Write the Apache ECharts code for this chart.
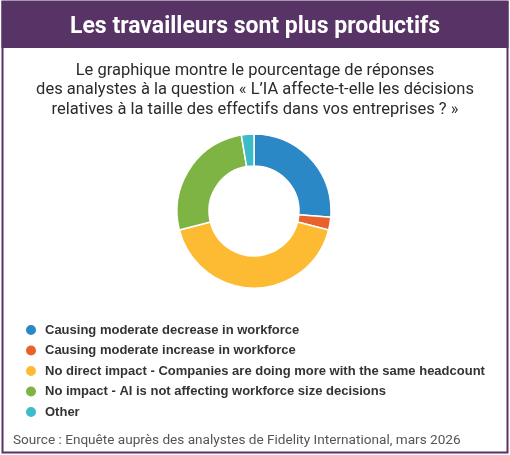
<!DOCTYPE html>
<html>
<head>
<meta charset="utf-8">
<script src="https://cdn.jsdelivr.net/npm/echarts@6/dist/echarts.min.js"></script>
<style>
  html, body { margin: 0; padding: 0; background: #fff; }
  #chart { width: 510px; height: 455px; }
</style>
</head>
<body>
<div id="chart"></div>
<script>
// réponses des analystes (nombre)
var categories = [
  'Causing moderate decrease in workforce',
  'Causing moderate increase in workforce',
  'No direct impact - Companies are doing more with the same headcount',
  'No impact - AI is not affecting workforce size decisions',
  'Other'
];
var responses = [10, 1, 16, 10, 1];
var colors = ['#2a88c6', '#e9612b', '#fcbb33', '#7db443', '#3cbcc9'];

var purple = '#573366';

var chart = echarts.init(document.getElementById('chart'));
chart.setOption({
  animation: false,
  color: colors,
  graphic: [
    { type: 'rect', shape: { x: 2.5, y: 1.5, width: 505, height: 451 }, style: { fill: '#fff', stroke: purple, lineWidth: 2 }, z: -10 },
    { type: 'rect', shape: { x: 1.5, y: 1, width: 507, height: 47 }, style: { fill: purple }, z: -9 }
  ],
  title: [
    {
      text: 'Les travailleurs sont plus productifs',
      left: 'center', top: 11,
      textStyle: { color: '#fff', fontFamily: 'Roboto', fontWeight: 'bold', fontSize: 23 }
    },
    {
      text: 'Le graphique montre le pourcentage de réponses\ndes analystes à la question « L’IA affecte-t-elle les décisions\nrelatives à la taille des effectifs dans vos entreprises ? »',
      left: 'center', top: 56,
      textStyle: { color: '#2b2b2b', fontFamily: 'Roboto', fontWeight: 'normal', fontSize: 16.5, lineHeight: 19.5, align: 'center' }
    },
    {
      text: 'Source : Enquête auprès des analystes de Fidelity International, mars 2026',
      left: 8, top: 429,
      textStyle: { color: '#555', fontFamily: 'Roboto', fontWeight: 'normal', fontSize: 13.6 }
    }
  ],
  legend: {
    orient: 'vertical',
    left: 19, top: 318,
    icon: 'circle',
    itemWidth: 12, itemHeight: 12, itemGap: 6.5,
    textStyle: { color: '#333', fontFamily: 'Liberation Sans', fontWeight: 'bold', fontSize: 13, padding: [0, 0, 0, 3] },
    selectedMode: false,
    data: categories
  },
  series: [{
    type: 'pie',
    center: [254, 211],
    radius: [45, 77],
    startAngle: 90,
    label: { show: false },
    labelLine: { show: false },
    itemStyle: { borderColor: '#fff', borderWidth: 1.5 },
    emphasis: { disabled: true },
    data: categories.map(function (c, i) { return { name: c, value: responses[i] }; })
  }]
});
</script>
</body>
</html>
